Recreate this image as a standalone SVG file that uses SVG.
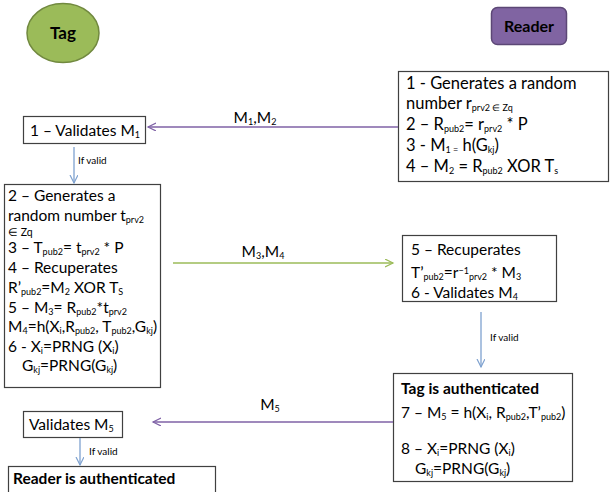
<svg xmlns="http://www.w3.org/2000/svg" width="611" height="492" viewBox="0 0 611 492">
<style>
.t{font-family:Lato,"Liberation Sans",sans-serif;font-size:15.5px;fill:#000}
.b{font-weight:bold}
.big{font-size:16.5px}
.tg{font-size:17px}
.rd{font-size:16px}
.zq{font-size:10.5px}
.s{font-size:9px}
.box{fill:#fff;stroke:#404040;stroke-width:1.2}
.lbl{font-family:Lato,"Liberation Sans",sans-serif;font-size:10px;fill:#000}
.p{stroke:#7F62A6;stroke-width:1.3;fill:none}
.g{stroke:#9BBB59;stroke-width:1.3;fill:none}
.bl{stroke:#7EA1CF;stroke-width:1.3;fill:none}
</style>
<defs>
<marker id="ap" markerWidth="10" markerHeight="10" refX="8" refY="4" orient="auto" markerUnits="userSpaceOnUse"><path d="M0,0 L8,4 L0,8" fill="none" stroke="#7F62A6" stroke-width="1.2"/></marker>
<marker id="ag" markerWidth="10" markerHeight="10" refX="8" refY="4" orient="auto" markerUnits="userSpaceOnUse"><path d="M0,0 L8,4 L0,8" fill="none" stroke="#9BBB59" stroke-width="1.2"/></marker>
<marker id="ab" markerWidth="10" markerHeight="10" refX="8" refY="4" orient="auto" markerUnits="userSpaceOnUse"><path d="M0,0 L8,4 L0,8" fill="none" stroke="#7EA1CF" stroke-width="1.2"/></marker>
</defs>

<g id="tag">
<ellipse cx="63" cy="33" rx="36" ry="29.5" fill="#9BBB59" stroke="#71893F" stroke-width="1.5"/>
<text class="t b tg" x="63" y="39" text-anchor="middle">Tag</text>
</g>

<g id="reader">
<rect x="491.5" y="7.5" width="75" height="37" rx="6" fill="#8064A2" stroke="#5C4776" stroke-width="1.5"/>
<text class="t b rd" x="529" y="32" text-anchor="middle">Reader</text>
</g>

<g id="reader-step1">
<rect class="box" x="398.5" y="71.5" width="210" height="110"/>
<text class="t big" x="406" y="89">1 - Generates a random</text>
<text class="t big" x="406" y="109">number r<tspan class="s" dy="1.5">prv2 ∈ Zq</tspan></text>
<text class="t big" x="406" y="130">2 – R<tspan class="s" dy="1.5">pub2</tspan><tspan dy="-1.5">= r</tspan><tspan class="s" dy="1.5">prv2</tspan><tspan dy="-1.5"> * P</tspan></text>
<text class="t big" x="406" y="151">3 - M<tspan class="s" dy="1.5">1 =</tspan><tspan dy="-1.5"> h(G</tspan><tspan class="s" dy="1.5">kj</tspan><tspan dy="-1.5">)</tspan></text>
<text class="t big" x="406" y="172">4 – M<tspan class="s" dy="1.5">2</tspan><tspan dy="-1.5"> = R</tspan><tspan class="s" dy="1.5">pub2</tspan><tspan dy="-1.5"> XOR T</tspan><tspan class="s" dy="1.5">s</tspan></text>
</g>

<g id="tag-validate-m1">
<rect class="box" x="23.5" y="116.5" width="122" height="27"/>
<text class="t" x="30" y="136">1 – Validates M<tspan class="s" dy="1.5">1</tspan></text>
</g>

<g id="tag-step2">
<rect class="box" x="4.5" y="184.5" width="156" height="203"/>
<text class="t" x="8" y="201">2 – Generates a</text>
<text class="t" x="8" y="221">random number t<tspan class="s" dy="1.5">prv2</tspan></text>
<text class="t zq" x="8" y="236">∈ Zq</text>
<text class="t" x="8" y="253">3 – T<tspan class="s" dy="1.5">pub2</tspan><tspan dy="-1.5">= t</tspan><tspan class="s" dy="1.5">prv2</tspan><tspan dy="-1.5"> * P</tspan></text>
<text class="t" x="8" y="273">4 – Recuperates</text>
<text class="t" x="8" y="293">R’<tspan class="s" dy="1.5">pub2</tspan><tspan dy="-1.5">=M</tspan><tspan class="s" dy="1.5">2</tspan><tspan dy="-1.5"> XOR T</tspan><tspan class="s" dy="1.5">S</tspan></text>
<text class="t" x="8" y="313">5 – M<tspan class="s" dy="1.5">3</tspan><tspan dy="-1.5">= R</tspan><tspan class="s" dy="1.5">pub2</tspan><tspan dy="-1.5">*t</tspan><tspan class="s" dy="1.5">prv2</tspan></text>
<text class="t" x="8" y="332">M<tspan class="s" dy="1.5">4</tspan><tspan dy="-1.5">=h(X</tspan><tspan class="s" dy="1.5">i</tspan><tspan dy="-1.5">,R</tspan><tspan class="s" dy="1.5">pub2</tspan><tspan dy="-1.5">, T</tspan><tspan class="s" dy="1.5">pub2</tspan><tspan dy="-1.5">,G</tspan><tspan class="s" dy="1.5">kj</tspan><tspan dy="-1.5">)</tspan></text>
<text class="t" x="8" y="352">6 - X<tspan class="s" dy="1.5">i</tspan><tspan dy="-1.5">=PRNG (X</tspan><tspan class="s" dy="1.5">i</tspan><tspan dy="-1.5">)</tspan></text>
<text class="t" x="22" y="371">G<tspan class="s" dy="1.5">kj</tspan><tspan dy="-1.5">=PRNG(G</tspan><tspan class="s" dy="1.5">kj</tspan><tspan dy="-1.5">)</tspan></text>
</g>

<g id="reader-step5">
<rect class="box" x="402.5" y="235.5" width="154" height="66"/>
<text class="t" x="411" y="255">5 – Recuperates</text>
<text class="t" x="411" y="278">T’<tspan class="s" dy="1.5">pub2</tspan><tspan dy="-1.5">=r</tspan><tspan class="s" dy="-4">−1</tspan><tspan class="s" dy="5.5">prv2</tspan><tspan dy="-1.5"> * M</tspan><tspan class="s" dy="1.5">3</tspan></text>
<text class="t" x="411" y="298">6 - Validates M<tspan class="s" dy="1.5">4</tspan></text>
</g>

<g id="tag-authenticated">
<rect class="box" x="393.5" y="373.5" width="179" height="108"/>
<text class="t b" x="401" y="394">Tag is authenticated</text>
<text class="t" x="401" y="418">7 – M<tspan class="s" dy="1.5">5</tspan><tspan dy="-1.5"> = h(X</tspan><tspan class="s" dy="1.5">i</tspan><tspan dy="-1.5">, R</tspan><tspan class="s" dy="1.5">pub2</tspan><tspan dy="-1.5">,T’</tspan><tspan class="s" dy="1.5">pub2</tspan><tspan dy="-1.5">)</tspan></text>
<text class="t" x="401" y="454">8 – X<tspan class="s" dy="1.5">i</tspan><tspan dy="-1.5">=PRNG (X</tspan><tspan class="s" dy="1.5">i</tspan><tspan dy="-1.5">)</tspan></text>
<text class="t" x="415" y="474">G<tspan class="s" dy="1.5">kj</tspan><tspan dy="-1.5">=PRNG(G</tspan><tspan class="s" dy="1.5">kj</tspan><tspan dy="-1.5">)</tspan></text>
</g>

<g id="tag-validate-m5">
<rect class="box" x="23.5" y="411.5" width="99" height="26"/>
<text class="t" x="29" y="430">Validates M<tspan class="s" dy="1.5">5</tspan></text>
</g>

<g id="reader-authenticated">
<rect class="box" x="8.5" y="466.5" width="207" height="30"/>
<text class="t b" x="13" y="484">Reader is authenticated</text>
</g>

<g id="connectors">
<line class="p" x1="398" y1="127" x2="148" y2="127" marker-end="url(#ap)"/>
<text class="t" x="255" y="123" text-anchor="middle">M<tspan class="s" dy="1.5">1</tspan><tspan dy="-1.5">,M</tspan><tspan class="s" dy="1.5">2</tspan></text>
<line class="bl" x1="74" y1="147" x2="74" y2="183" marker-end="url(#ab)"/>
<text class="lbl" x="78" y="164">If valid</text>
<line class="g" x1="173" y1="263" x2="393" y2="263" marker-end="url(#ag)"/>
<text class="t" x="263" y="257" text-anchor="middle">M<tspan class="s" dy="1.5">3</tspan><tspan dy="-1.5">,M</tspan><tspan class="s" dy="1.5">4</tspan></text>
<line class="bl" x1="481" y1="312" x2="481" y2="367" marker-end="url(#ab)"/>
<text class="lbl" x="490" y="341">If valid</text>
<line class="p" x1="393" y1="422" x2="153" y2="422" marker-end="url(#ap)"/>
<text class="t" x="270" y="410" text-anchor="middle">M<tspan class="s" dy="1.5">5</tspan></text>
<line class="bl" x1="80" y1="438" x2="80" y2="465" marker-end="url(#ab)"/>
<text class="lbl" x="89" y="455">If valid</text>
</g>
</svg>
